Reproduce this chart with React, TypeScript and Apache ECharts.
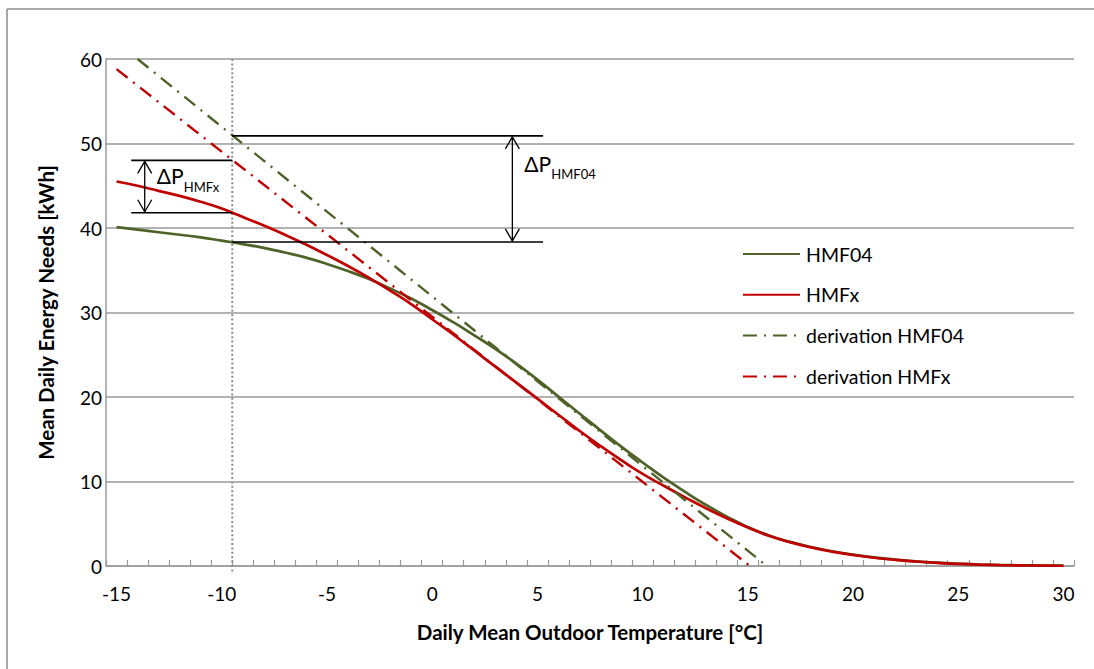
import React, { useEffect, useRef } from 'react';
import * as echarts from 'echarts';

// ---------- data ----------
const temps = [
  -15, -14, -13, -12, -11, -10, -9, -8, -7, -6,
  -5, -4, -3, -2, -1, 0, 1, 2, 3, 4,
  5, 6, 7, 8, 9, 10, 11, 12, 13, 14,
  15, 16, 17, 18, 19, 20, 21, 22, 23, 24,
  25, 26, 27, 28, 29, 30,
];
const hmf04 = [
  40.1, 39.8, 39.5, 39.2, 38.9, 38.5, 38.1, 37.65, 37.1, 36.5,
  35.75, 34.9, 33.95, 32.85, 31.65, 30.3, 28.85, 27.3, 25.7, 23.95,
  22.05, 20.05, 18.05, 16.05, 14.1, 12.25, 10.45, 8.8, 7.25, 5.85,
  4.6, 3.6, 2.85, 2.25, 1.75, 1.35, 1.02, 0.76, 0.55, 0.39,
  0.27, 0.18, 0.12, 0.08, 0.06, 0.04,
];
const hmfx = [
  45.5, 45.0, 44.4, 43.8, 43.1, 42.3, 41.3, 40.3, 39.2, 38.05,
  36.8, 35.5, 34.1, 32.6, 31.0, 29.2, 27.4, 25.5, 23.6, 21.7,
  19.8, 17.9, 16.0, 14.2, 12.5, 10.9, 9.5, 8.15, 6.85, 5.65,
  4.55, 3.58, 2.82, 2.2, 1.7, 1.3, 0.98, 0.73, 0.53, 0.37,
  0.26, 0.17, 0.11, 0.07, 0.05, 0.03,
];
const derivHMF04 = [
  [-14, 60],
  [15.9, 0],
];
const derivHMFx = [
  [-15, 58.8],
  [15.1, 0],
];
const xLabelValues = [-15, -10, -5, 0, 5, 10, 15, 20, 25, 30];
const xTickValues = temps.map((t) => t - 0.5).concat([temps[temps.length - 1] + 0.5]);
const yTicks = [0, 10, 20, 30, 40, 50, 60];

const refTemp = -9.5;
const dpHMFx = { x: -13.66, top: 48.0, bottom: 41.8, from: -14.3, to: -9.5, label: 'HMFx' };
const dpHMF04 = { x: 3.81, top: 50.9, bottom: 38.35, from: -9.5, to: 5.27, label: 'HMF04' };

const GREEN = '#4F6228';
const RED = '#C00000';
const FONT = 'Lato';
const DASHDOT = [14, 7, 2, 7];

export default function App() {
  const ref = useRef<HTMLDivElement>(null);

  useEffect(() => {
    if (!ref.current) return;
    const chart = echarts.init(ref.current, undefined, { renderer: 'svg' });

    const option: any = {
      animation: false,
      backgroundColor: '#ffffff',
      grid: { left: 106, right: 20, top: 59, bottom: 103, containLabel: false },
      legend: {
        orient: 'vertical',
        left: 742,
        top: 244,
        padding: 0,
        itemWidth: 57,
        itemHeight: 20,
        itemGap: 20.8,
        itemStyle: { opacity: 0 },
        textStyle: { fontFamily: FONT, fontSize: 19.5, color: '#000', lineHeight: 20, padding: [0, 0, 0, 1] },
        data: ['HMF04', 'HMFx', 'derivation HMF04', 'derivation HMFx'],
      },
      xAxis: {
        type: 'value',
        min: -15.5,
        max: 30.5,
        splitLine: { show: false },
        axisLine: { show: true, onZero: false, lineStyle: { color: '#9a9a9a', width: 1.5 } },
        axisTick: {
          show: true,
          inside: true,
          length: 6,
          customValues: xTickValues,
          lineStyle: { color: '#9a9a9a', width: 1.2 },
        },
        axisLabel: {
          customValues: xLabelValues,
          fontFamily: FONT,
          fontSize: 19,
          color: '#000',
          margin: 18,
        },
        name: 'Daily Mean Outdoor Temperature [°C]',
        nameLocation: 'middle',
        nameGap: 55,
        nameTextStyle: { fontFamily: FONT, fontSize: 20.5, fontWeight: 'bold', color: '#000' },
      },
      yAxis: {
        type: 'value',
        min: 0,
        max: 60,
        interval: 10,
        axisLine: { show: true, onZero: false, lineStyle: { color: '#9a9a9a', width: 1.5 } },
        axisTick: { show: false },
        splitLine: { show: true, lineStyle: { color: '#9a9a9a', width: 1.5 } },
        axisLabel: {
          fontFamily: FONT,
          fontSize: 19,
          color: '#000',
          margin: 4,
          customValues: yTicks,
        },
        name: 'Mean Daily Energy Needs [kWh]',
        nameLocation: 'middle',
        nameGap: 50,
        nameTextStyle: { fontFamily: FONT, fontSize: 20.5, fontWeight: 'bold', color: '#000' },
      },
      series: [
        {
          name: 'HMF04',
          type: 'line',
          data: temps.map((t, i) => [t, hmf04[i]]),
          smooth: true,
          symbol: 'none',
          lineStyle: { color: GREEN, width: 2.7 },
          itemStyle: { color: GREEN },
          z: 2,
        },
        {
          name: 'HMFx',
          type: 'line',
          data: temps.map((t, i) => [t, hmfx[i]]),
          smooth: true,
          symbol: 'none',
          lineStyle: { color: RED, width: 2.7 },
          itemStyle: { color: RED },
          z: 3,
        },
        {
          name: 'derivation HMF04',
          type: 'line',
          data: derivHMF04,
          symbol: 'none',
          lineStyle: { color: GREEN, width: 2.4, type: DASHDOT },
          itemStyle: { color: GREEN },
          z: 4,
        },
        {
          name: 'derivation HMFx',
          type: 'line',
          data: derivHMFx,
          symbol: 'none',
          lineStyle: { color: RED, width: 2.4, type: DASHDOT },
          itemStyle: { color: RED },
          z: 5,
        },
      ],
    };
    chart.setOption(option);

    const px = (x: number, y: number) => chart.convertToPixel({ gridIndex: 0 }, [x, y]) as number[];
    const black = { stroke: '#000', lineWidth: 1.6 };
    const graphics: any[] = [];

    // outer border
    graphics.push({ type: 'line', shape: { x1: 7, y1: 9, x2: 1094, y2: 9 }, style: { stroke: '#8a8a8a', lineWidth: 1.5 }, z: 50 });
    graphics.push({ type: 'line', shape: { x1: 7, y1: 9, x2: 7, y2: 669 }, style: { stroke: '#8a8a8a', lineWidth: 1.5 }, z: 50 });

    // vertical dotted reference line
    const rTop = px(refTemp, 60);
    const rBot = px(refTemp, 0);
    graphics.push({
      type: 'line',
      shape: { x1: rTop[0], y1: rTop[1], x2: rBot[0], y2: rBot[1] + 8 },
      style: { stroke: '#8c8c8c', lineWidth: 2, lineDash: [2, 2.4] },
      z: 1,
    });

    const addDelta = (d: any, labelDy: number) => {
      const a = px(d.from, d.top);
      const b = px(d.to, d.top);
      const c = px(d.from, d.bottom);
      const e = px(d.to, d.bottom);
      graphics.push({ type: 'line', shape: { x1: a[0], y1: a[1], x2: b[0], y2: b[1] }, style: black, z: 60 });
      graphics.push({ type: 'line', shape: { x1: c[0], y1: c[1], x2: e[0], y2: e[1] }, style: black, z: 60 });
      const t = px(d.x, d.top);
      const bt = px(d.x, d.bottom);
      graphics.push({ type: 'line', shape: { x1: t[0], y1: t[1] + 1, x2: bt[0], y2: bt[1] - 1 }, style: { stroke: '#000', lineWidth: 1.3 }, z: 60 });
      graphics.push({
        type: 'polyline',
        shape: { points: [[t[0] - 7, t[1] + 13], [t[0], t[1] + 1], [t[0] + 7, t[1] + 13]] },
        style: { stroke: '#000', lineWidth: 1.3, fill: null },
        z: 60,
      });
      graphics.push({
        type: 'polyline',
        shape: { points: [[bt[0] - 7, bt[1] - 13], [bt[0], bt[1] - 1], [bt[0] + 7, bt[1] - 13]] },
        style: { stroke: '#000', lineWidth: 1.3, fill: null },
        z: 60,
      });
      const base = t[1] + labelDy;
      graphics.push({
        type: 'text',
        x: t[0] + 12,
        y: base,
        style: { text: 'ΔP', fontFamily: FONT, fontSize: 21, fill: '#000', verticalAlign: 'bottom', align: 'left' },
        z: 60,
      });
      graphics.push({
        type: 'text',
        x: t[0] + 39,
        y: base + 7,
        style: { text: d.label, fontFamily: FONT, fontSize: 13, fill: '#000', verticalAlign: 'bottom', align: 'left' },
        z: 60,
      });
    };
    addDelta(dpHMFx, 26);
    addDelta(dpHMF04, 38);

    chart.setOption({ graphic: graphics });

    return () => {
      chart.dispose();
    };
  }, []);

  return (
    <div
      ref={ref}
      style={{ position: 'fixed', left: 0, top: 0, width: 1094, height: 669, background: '#fff' }}
    />
  );
}
